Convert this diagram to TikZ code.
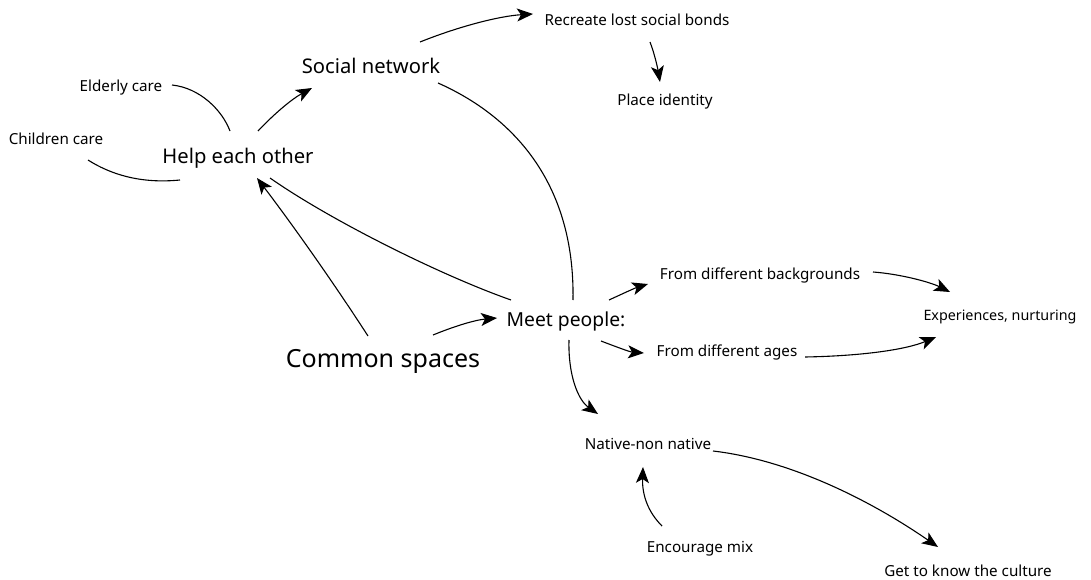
\documentclass[tikz,border=0pt]{standalone}
\usepackage{fontspec}
\setmainfont{Noto Sans}
\usetikzlibrary{arrows.meta,calc}

\tikzset{
  lbl/.style={inner sep=0pt, font=\fontsize{15.2}{18}\selectfont},
  mid/.style={inner sep=0pt, font=\fontsize{20.2}{24}\selectfont},
  big/.style={inner sep=0pt, font=\fontsize{25}{30}\selectfont},
  link/.style={line width=1.1pt},
  arr/.style={link, -{Stealth[length=16pt,width=13pt,inset=4pt]}},
}

\begin{document}
\begin{tikzpicture}[x=1pt,y=-1pt]
\useasboundingbox (0,0) rectangle (1091,580);

% labels
\node[lbl] (elder)   at (121,88)  {Elderly care};
\node[lbl] (child)   at (56,139)  {Children care};
\node[mid] (help)    at (238,158) {Help each other};
\node[mid] (social)  at (371,66)  {Social network};
\node[lbl] (recreate) at (637,20) {Recreate lost social bonds};
\node[lbl] (place)   at (665,102) {Place identity};
\node[big] (common)  at (383,361) {Common spaces};
\node[mid, font=\fontsize{19.3}{23}\selectfont] (meet) at (566,321) {Meet people:};
\node[lbl] (bg)      at (760,276) {From different backgrounds};
\node[lbl] (ages)    at (727,353) {From different ages};
\node[lbl, font=\fontsize{14.3}{17}\selectfont] (exp) at (1000,317) {Experiences, nurturing};
\node[lbl] (native)  at (648,444) {Native-non native};
\node[lbl] (mix)     at (700,549) {Encourage mix};
\node[lbl] (culture) at (968,571) {Get to know the culture};

% plain links
\draw[link] ($(elder)+(51,-3)$) .. controls (200,88) and (222,110) .. ($(help)+(-8,-27)$);
\draw[link] ($(child)+(32,21)$) .. controls (110,174) and (140,184) .. ($(help)+(-58,22)$);
\draw[link] ($(social)+(67,17)$) .. controls (510,115) and (575,180) .. ($(meet)+(7,-21)$);
\draw[link] ($(meet)+(-55,-21)$) .. controls (440,275) and (330,220) .. ($(help)+(32,20)$);

% arrows
\draw[arr] ($(help)+(20,-27)$) .. controls (275,113) and (292,99) .. ($(social)+(-59,22)$);
\draw[arr] ($(social)+(49,-24)$) .. controls (460,26) and (500,16) .. ($(recreate)+(-104,-6)$);
\draw[arr] ($(recreate)+(13,22)$) .. controls (655,55) and (658,70) .. ($(place)+(-5,-20)$);
\draw[arr] ($(common)+(-15,-25)$) .. controls (335,285) and (295,228) .. ($(help)+(19,20)$);
\draw[arr] ($(common)+(50,-26)$) .. controls (455,326) and (475,320) .. ($(meet)+(-69,-3)$);
\draw[arr] ($(meet)+(43,-21)$) .. controls (622,294) and (635,288) .. ($(bg)+(-112,8)$);
\draw[arr] ($(meet)+(35,20)$) .. controls (614,346) and (630,352) .. ($(ages)+(-83,0)$);
\draw[arr] ($(bg)+(113,-4)$) .. controls (900,274) and (930,282) .. ($(exp)+(-50,-25)$);
\draw[arr] ($(ages)+(78,4)$) .. controls (860,356) and (905,350) .. ($(exp)+(-64,20)$);
\draw[arr] ($(meet)+(3,19)$) .. controls (568,375) and (578,400) .. ($(native)+(-50,-30)$);
\draw[arr] ($(native)+(65,7)$) .. controls (790,460) and (870,500) .. ($(culture)+(-30,-24)$);
\draw[arr] ($(mix)+(-38,-23)$) .. controls (648,512) and (642,495) .. ($(native)+(-5,23)$);

\end{tikzpicture}
\end{document}
